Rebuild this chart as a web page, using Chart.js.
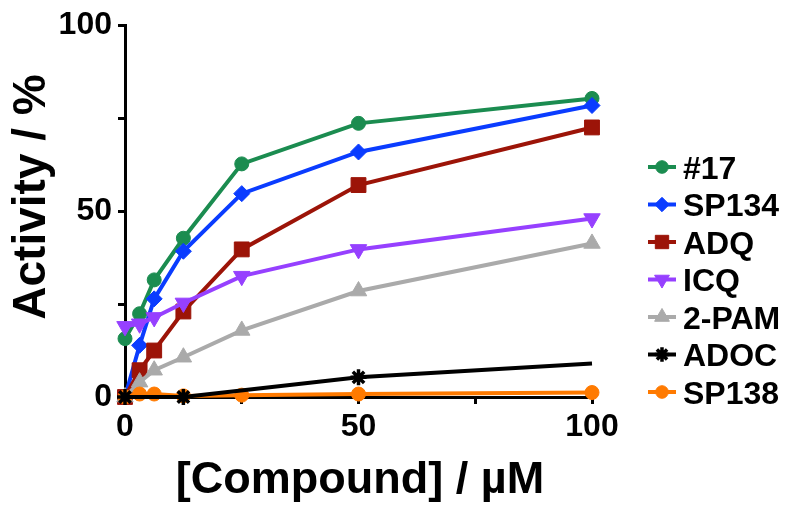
<!DOCTYPE html>
<html>
<head>
<meta charset="utf-8">
<script src="https://cdn.jsdelivr.net/npm/chart.js"></script>
<style>
  html, body { margin: 0; padding: 0; background: #fff; }
  #wrap { width: 800px; height: 513px; }
</style>
</head>
<body>
<div id="wrap"><canvas id="activityChart" width="800" height="513"></canvas></div>
<script>
// Data
const doses = [0, 3.125, 6.25, 12.5, 25, 50, 100];
const names = ['#17', 'SP134', 'ADQ', 'ICQ', '2-PAM', 'ADOC', 'SP138'];
const c17 = [15.7, 22.4, 31.5, 42.7, 62.7, 73.6, 80.3];
const sp134 = [0, 13.9, 26.4, 39.2, 54.7, 65.9, 78.4];
const adq = [0, 7.2, 12.5, 23, 39.7, 57, 72.5];
const icq = [19, 19.7, 21.4, 25.3, 32.5, 39.7, 48];
const pam = [0, 4, 7.2, 10.7, 17.9, 28.5, 41.3];
const adoc = [0, null, null, 0, null, 5.3, 9];
const sp138 = [0, 0.8, 0.8, 0.3, 0.5, 0.8, 1.2];
const xTicks = [0, 50, 100];
const yTicks = [0, 50, 100];

const FONT = "'Liberation Sans', Arial, Helvetica, sans-serif";

const styles = [
    { color: '#1b8c50', pointStyle: 'circle', radius: 7 },
    { color: '#0a3cff', pointStyle: 'rectRot', radius: 8 },
    { color: '#9c1408', pointStyle: 'rect', radius: 10.5 },
    { color: '#9640ff', pointStyle: 'triangle', rotation: 180, radius: 9.5 },
    { color: '#aaaaaa', pointStyle: 'triangle', radius: 9.5 },
    { color: '#000000', pointStyle: 'star', radius: 8 },
    { color: '#ff7a00', pointStyle: 'circle', radius: 7 }
];
const series = [c17, sp134, adq, icq, pam, adoc, sp138];
// drawing order: lower number is drawn on top
const drawOrder = [7, 6, 5, 4, 3, 1, 2];

const datasets = series.map((vals, i) => {
    const s = styles[i];
    return {
        label: names[i],
        data: doses.map((d, k) => ({ x: d, y: vals[k] })),
        borderColor: s.color,
        backgroundColor: s.color,
        borderWidth: 4,
        pointStyle: s.pointStyle,
        pointRotation: s.rotation || 0,
        pointRadius: i === 5 ? (c => c.dataIndex === doses.length - 1 ? 0 : s.radius) : s.radius,
        pointBorderWidth: s.pointStyle === 'star' ? 3.5 : 1,
        pointBorderColor: s.color,
        pointBackgroundColor: s.color,
        spanGaps: true,
        tension: 0,
        clip: false,
        order: drawOrder[i]
    };
});

// Legend on the right and both axis titles
const textPlugin = {
    id: 'textPlugin',
    afterDraw(chart) {
        const ctx = chart.ctx;
        ctx.save();
        // legend
        datasets.forEach((ds, i) => {
            const s = styles[i];
            const y = 167 + i * 37.5;
            ctx.strokeStyle = s.color;
            ctx.fillStyle = s.color;
            ctx.lineWidth = 4;
            ctx.beginPath();
            ctx.moveTo(648, y);
            ctx.lineTo(676, y);
            ctx.stroke();
            ctx.lineWidth = s.pointStyle === 'star' ? 3.5 : 1;
            Chart.helpers.drawPoint(ctx, {
                pointStyle: s.pointStyle,
                rotation: s.rotation || 0,
                radius: s.radius * 0.9,
                borderWidth: ctx.lineWidth
            }, 662, y);
            ctx.fillStyle = '#000';
            ctx.font = 'bold 32px ' + FONT;
            ctx.textAlign = 'left';
            ctx.textBaseline = 'alphabetic';
            ctx.fillText(names[i], 683, y + 11.5);
        });
        // x title
        ctx.fillStyle = '#000';
        ctx.font = 'bold 45px ' + FONT;
        ctx.textAlign = 'center';
        ctx.textBaseline = 'alphabetic';
        ctx.fillText('[Compound] / µM', 360, 493);
        // y title
        ctx.translate(45, 197);
        ctx.rotate(-Math.PI / 2);
        ctx.font = 'bold 46px ' + FONT;
        ctx.fillText('Activity / %', 0, 0);
        ctx.restore();
    }
};

new Chart(document.getElementById('activityChart').getContext('2d'), {
    type: 'line',
    data: { datasets },
    options: {
        responsive: false,
        animation: false,
        layout: { padding: { top: 23, right: 208, bottom: 0, left: 0 } },
        plugins: {
            legend: { display: false },
            tooltip: { enabled: false }
        },
        scales: {
            x: {
                type: 'linear',
                min: 0,
                max: 100,
                afterFit: scale => { scale.height = 116; },
                border: { display: true, color: '#000', width: 3 },
                grid: { drawOnChartArea: false, drawTicks: true, tickLength: 7, color: '#000', lineWidth: 3 },
                ticks: {
                    stepSize: 25,
                    padding: 4,
                    color: '#000',
                    font: { family: FONT, size: 32, weight: 'bold' },
                    maxRotation: 0,
                    callback: v => xTicks.includes(v) ? v : ''
                }
            },
            y: {
                min: 0,
                max: 100,
                afterFit: scale => { scale.width = 125; },
                border: { display: true, color: '#000', width: 3 },
                grid: { drawOnChartArea: false, drawTicks: true, tickLength: 7, color: '#000', lineWidth: 3 },
                ticks: {
                    stepSize: 25,
                    padding: 6,
                    color: '#000',
                    font: { family: FONT, size: 32, weight: 'bold' },
                    callback: v => yTicks.includes(v) ? v : ''
                }
            }
        }
    },
    plugins: [textPlugin]
});
</script>
</body>
</html>
